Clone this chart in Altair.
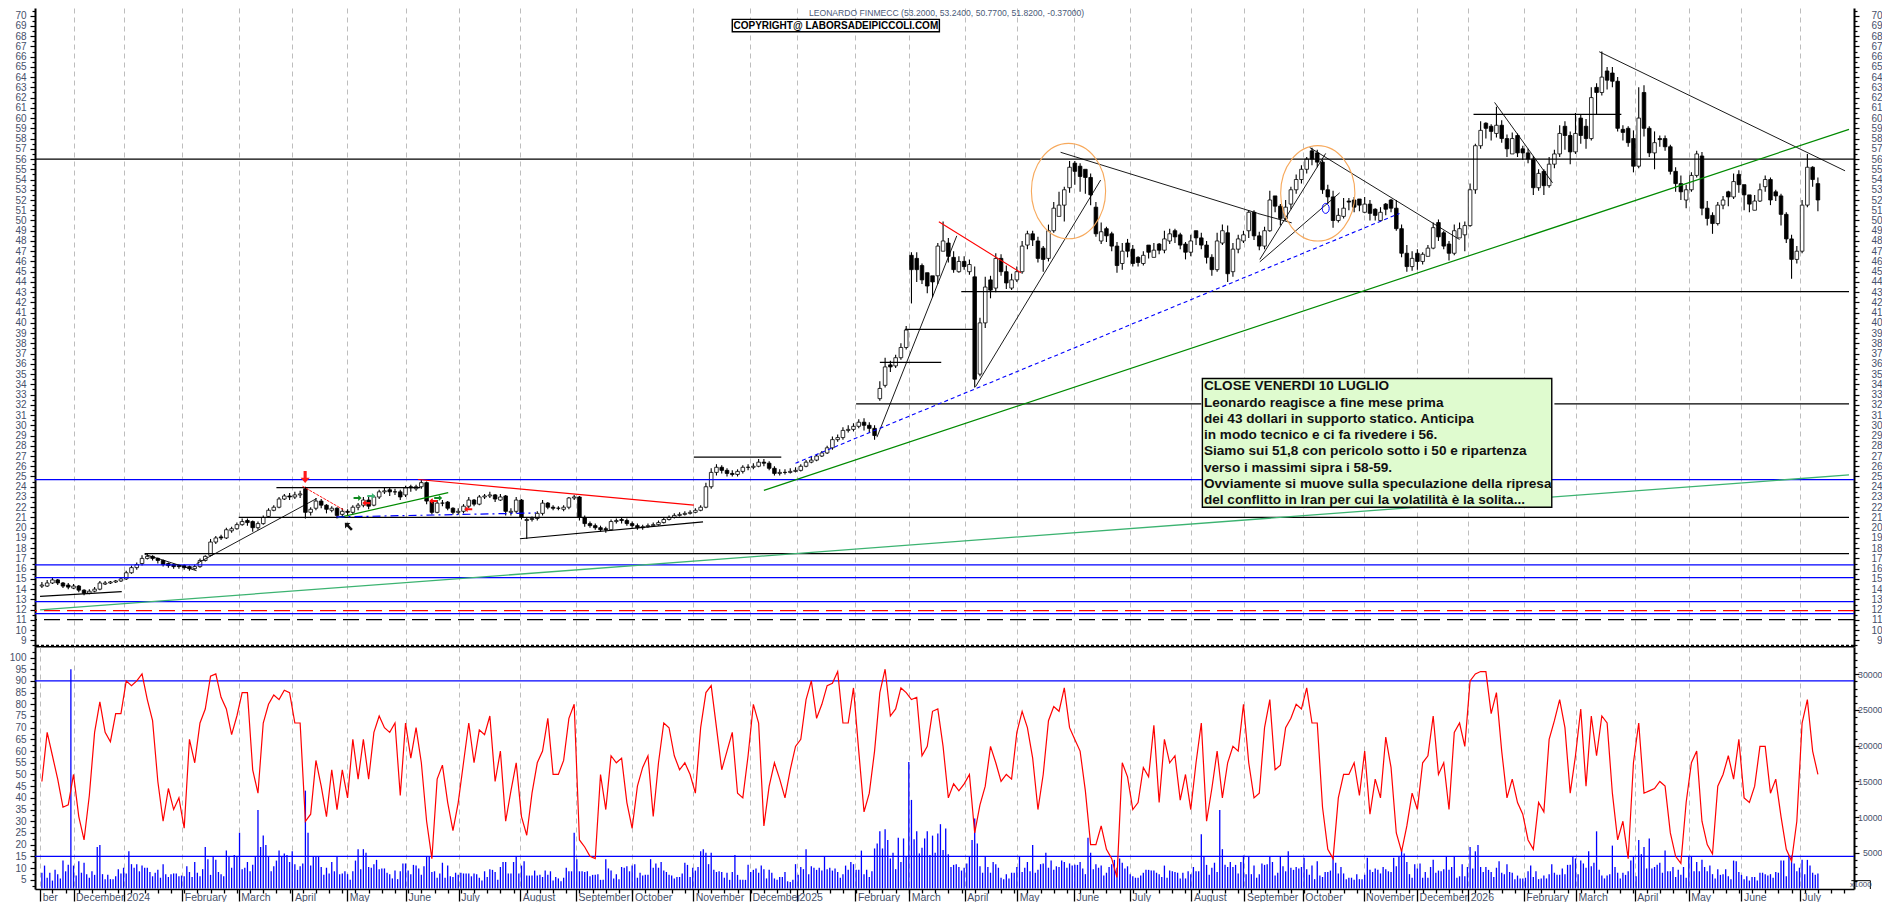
import altair as alt
import pandas as pd
import json

FONT = "Liberation Sans"

# ---- candles, one every second trading session, first at session -12
open_ = [14.3,14.3,14.6,14.9,14.6,14.4,14.1,14.3,13.9,13.6,
13.8,14.0,14.5,14.6,14.7,14.8,15.0,15.6,16.1,16.5,
17.0,17.2,17.0,16.8,16.5,16.4,16.3,16.3,16.2,16.0,
16.2,16.8,17.3,18.6,19.1,19.0,19.7,19.9,20.3,20.7,
20.6,20.0,20.4,21.1,21.7,22.0,22.8,23.1,23.0,23.2,
23.8,21.5,21.9,22.6,22.2,21.7,21.9,21.3,21.6,21.5,
22.0,22.2,22.7,22.2,23.0,23.5,23.7,23.5,23.5,23.2,
24.0,23.8,24.0,24.4,22.6,21.5,22.4,22.5,21.9,21.5,
21.6,22.1,22.7,22.3,23.0,23.1,23.2,22.7,23.1,21.5,
21.6,22.7,20.7,20.8,20.9,21.4,22.4,22.0,21.9,21.8,
22.0,22.9,23.0,21.0,20.4,20.2,20.0,19.9,19.8,20.6,
20.8,20.7,20.4,20.2,20.0,20.1,20.2,20.3,20.5,20.8,
21.0,21.2,21.3,21.4,21.5,21.7,22.0,24.0,25.4,25.9,
25.6,25.3,25.2,25.5,25.9,25.9,26.0,26.4,26.3,25.8,
25.3,25.4,25.4,25.5,25.6,26.0,26.4,26.6,27.0,27.3,
27.8,28.6,28.8,29.5,29.6,29.9,30.3,30.0,29.7,32.6,
33.9,35.9,35.8,36.6,37.6,46.6,46.3,45.6,44.9,44.6,
44.6,47.0,47.8,46.4,45.0,46.0,45.0,44.5,35.0,40.0,
44.2,43.4,46.3,45.0,43.4,44.2,45.0,47.6,48.7,48.0,
47.3,46.3,49.0,50.4,51.5,53.2,55.6,55.3,55.0,54.2,
51.3,48.0,49.2,48.7,47.5,45.8,47.8,47.2,46.4,45.8,
47.6,46.4,47.7,47.1,48.0,49.0,48.6,47.7,46.9,49.0,
48.3,47.6,46.4,45.2,47.8,48.8,45.0,47.2,48.0,49.0,
50.8,48.5,47.5,49.0,52.4,51.4,50.2,51.6,53.0,54.0,
55.0,56.8,56.6,55.7,53.0,52.3,50.0,50.4,51.9,52.0,
52.1,50.8,51.6,51.1,50.0,51.6,52.0,51.2,49.2,46.8,
45.5,46.8,46.0,46.5,47.3,49.8,48.8,47.7,46.8,48.3,
48.6,49.5,53.0,57.3,59.5,59.2,58.5,59.3,58.0,56.5,
58.3,57.0,56.6,56.0,53.2,54.8,53.4,55.5,56.5,59.2,
58.3,56.7,60.0,59.2,58.0,63.0,62.5,64.6,64.4,63.6,
58.9,59.0,58.0,55.3,62.5,59.0,56.6,58.0,58.0,57.2,
54.8,53.6,52.0,53.0,54.4,56.3,51.2,50.5,49.7,51.5,
52.8,52.3,54.5,53.5,52.5,51.0,51.9,53.3,54.0,52.8,
52.4,50.6,48.2,46.2,47.0,51.5,55.2,53.6]

high = [14.7,14.9,15.1,15.0,14.7,14.6,14.5,14.4,14.0,14.0,
14.2,14.8,14.8,14.8,14.9,15.1,15.8,16.3,16.6,17.3,
17.5,17.3,17.1,16.9,16.6,16.5,16.4,16.4,16.3,16.4,
17.0,17.3,18.9,19.2,19.3,20.0,20.1,20.5,20.9,20.9,
20.7,20.6,21.2,21.9,22.2,23.0,23.3,23.4,23.5,23.6,
24.0,22.0,22.9,22.8,22.3,22.1,22.0,21.9,21.8,22.2,
22.4,23.0,23.0,23.2,23.7,23.9,23.9,23.8,23.7,24.1,
24.2,24.2,24.7,24.5,22.8,22.7,22.7,22.6,22.0,21.9,
22.3,23.0,22.8,23.2,23.3,23.5,23.3,23.3,23.2,21.9,
23.0,22.8,21.0,21.1,21.6,22.7,22.5,22.2,22.1,22.2,
23.0,23.2,23.1,21.2,20.6,20.4,20.2,20.1,20.8,20.9,
21.0,20.9,20.6,20.4,20.3,20.4,20.5,20.7,21.0,21.2,
21.4,21.5,21.6,21.7,21.9,22.2,24.4,25.8,26.2,26.1,
25.8,25.6,25.7,26.1,26.2,26.3,26.7,26.7,26.5,26.0,
25.7,25.7,25.8,25.9,26.2,26.6,26.9,27.2,27.5,28.0,
28.9,29.1,29.8,30.0,30.2,30.6,30.7,30.3,30.0,34.3,
36.6,36.3,36.9,38.0,39.7,46.9,46.9,45.8,44.9,44.5,
47.8,49.9,48.3,47.0,46.5,46.5,46.2,45.5,40.5,44.5,
44.6,46.8,46.7,45.6,44.8,45.5,48.0,49.0,49.0,48.4,
47.5,49.6,51.8,52.8,53.3,55.8,55.8,55.6,54.8,54.6,
51.8,49.8,49.4,48.9,47.9,47.8,48.2,47.6,46.5,47.0,
47.4,47.8,47.8,49.0,49.2,49.2,48.8,47.9,48.6,49.0,
48.8,48.0,46.7,48.8,49.6,49.5,47.8,48.6,49.0,51.0,
51.0,48.9,49.4,52.9,52.3,51.6,52.0,53.3,54.5,55.4,
56.2,57.1,56.9,55.9,53.5,52.9,51.2,52.2,52.2,52.3,
52.0,52.3,52.0,51.2,51.3,51.7,52.1,52.0,49.6,47.6,
47.0,47.2,46.9,47.6,49.8,50.1,49.0,48.0,49.6,49.8,
49.9,53.6,57.5,59.7,59.6,59.4,61.1,59.8,58.4,58.6,
58.5,57.3,57.0,56.3,55.0,55.0,56.2,56.9,59.3,59.7,
58.7,60.5,60.4,59.9,63.0,63.4,66.5,65.0,65.0,64.0,
59.3,59.2,58.8,63.0,63.2,59.2,58.7,58.3,58.3,57.4,
55.2,54.4,53.5,54.7,56.8,56.7,51.9,50.8,51.8,52.4,
52.9,54.6,54.9,53.0,52.2,52.5,53.6,54.4,54.2,53.0,
52.6,50.8,48.6,47.5,52.0,56.5,55.3,54.2]

low = [14.1,14.2,14.5,14.4,14.1,14.0,14.0,13.7,13.4,13.5,
13.7,13.9,14.4,14.5,14.6,14.7,14.9,15.5,15.9,16.3,
16.9,16.8,16.5,16.2,16.1,16.0,16.0,15.9,15.8,15.9,
16.1,16.7,17.2,18.4,18.8,18.9,19.5,19.8,20.2,20.2,
19.6,19.8,20.3,21.0,21.6,21.9,22.7,22.7,22.8,22.9,
20.9,21.2,21.7,21.9,21.4,21.5,20.9,21.1,21.2,21.3,
21.7,22.0,21.8,22.1,22.8,23.3,23.1,23.2,22.7,23.0,
23.5,23.6,23.8,22.3,21.3,21.4,22.1,21.7,21.3,21.3,
21.4,21.9,22.1,22.2,22.8,22.9,22.5,22.6,21.2,21.2,
21.4,20.8,18.9,20.6,20.7,21.2,21.8,21.7,21.7,21.6,
21.8,22.7,20.7,20.1,20.0,19.8,19.6,19.5,19.7,20.4,
20.4,20.2,20.0,19.8,19.8,20.0,20.1,20.2,20.4,20.7,
20.9,21.1,21.2,21.3,21.4,21.6,21.9,23.8,25.1,25.3,
25.0,25.0,25.0,25.3,25.6,25.7,25.9,26.0,25.6,25.1,
25.1,25.2,25.3,25.4,25.5,25.9,26.3,26.5,26.9,27.2,
27.6,28.4,28.6,29.3,29.4,29.7,29.5,29.3,28.6,32.4,
33.7,35.2,35.6,36.4,37.4,41.9,44.0,43.8,42.9,42.5,
43.8,47.1,45.9,44.9,44.9,45.2,44.7,33.7,34.8,39.5,
42.4,43.0,44.6,43.3,43.2,44.0,44.8,47.2,47.5,45.9,
45.0,46.0,48.8,50.8,49.9,52.7,53.5,52.8,52.6,51.5,
48.4,47.7,47.9,47.0,44.9,45.2,46.4,45.5,45.5,45.6,
46.3,46.4,46.7,46.8,47.7,47.8,47.2,46.2,46.5,47.6,
47.2,45.8,44.6,45.0,47.6,44.0,44.5,46.8,47.8,48.3,
48.1,47.1,47.2,48.9,50.8,49.5,50.0,51.1,52.6,53.6,
54.6,55.4,55.2,52.6,51.6,49.3,49.8,50.2,51.0,50.8,
50.9,50.7,50.0,50.0,50.3,50.5,50.8,49.0,46.4,45.0,
45.1,45.2,45.7,46.5,47.2,48.0,47.2,46.1,46.6,48.5,
47.0,49.4,52.6,57.0,58.0,57.8,58.1,57.6,56.2,56.7,
56.2,55.9,55.6,52.5,52.9,52.5,53.2,55.1,56.2,56.9,
55.5,56.5,57.5,57.0,57.8,60.4,62.2,62.8,63.0,58.7,
57.8,57.2,54.7,55.1,58.2,56.2,55.0,57.2,56.8,54.5,
52.8,52.0,51.2,52.8,54.2,50.5,49.5,48.7,49.5,51.1,
51.4,52.1,52.7,51.0,50.8,51.0,51.8,52.8,51.5,51.9,
49.5,47.8,44.3,45.8,46.8,51.3,53.3,50.9]

close = [14.4,14.6,14.9,14.6,14.3,14.2,14.3,13.9,13.6,13.8,
14.0,14.6,14.6,14.7,14.8,15.0,15.6,16.1,16.4,17.0,
17.2,17.0,16.8,16.4,16.3,16.2,16.2,16.1,16.0,16.2,
16.8,17.2,18.6,19.0,19.0,19.8,19.9,20.3,20.6,20.5,
20.0,20.4,21.0,21.7,22.0,22.8,23.1,23.0,23.2,23.3,
21.5,21.8,22.6,22.2,21.8,21.9,21.2,21.6,21.5,22.0,
22.2,22.7,22.1,23.0,23.5,23.6,23.5,23.5,23.0,23.9,
23.9,24.0,24.4,22.6,21.5,22.4,22.4,21.9,21.5,21.6,
22.1,22.7,22.3,23.0,23.1,23.2,22.8,23.0,21.6,21.6,
22.7,21.0,20.8,20.9,21.4,22.4,22.0,21.9,21.9,22.0,
22.9,23.0,21.0,20.4,20.2,20.0,19.8,19.8,20.6,20.7,
20.7,20.4,20.2,20.0,20.1,20.2,20.3,20.5,20.8,21.0,
21.2,21.3,21.4,21.5,21.7,22.0,24.0,25.4,25.9,25.6,
25.3,25.2,25.5,25.9,25.9,26.0,26.4,26.3,25.8,25.3,
25.4,25.4,25.5,25.6,26.0,26.4,26.6,27.0,27.3,27.8,
28.6,28.8,29.5,29.6,29.9,30.3,30.0,29.7,29.0,33.6,
35.7,35.7,36.6,37.6,39.3,45.2,45.2,44.2,43.6,44.0,
47.5,48.0,46.5,45.2,46.0,45.5,45.7,34.5,40.0,43.5,
43.2,46.3,45.0,43.9,44.2,45.0,47.5,48.7,48.1,46.3,
46.2,49.0,51.2,51.5,53.0,55.2,54.8,54.3,54.2,52.5,
48.7,48.9,48.5,47.5,45.6,47.0,47.0,45.8,45.9,46.6,
46.9,47.1,47.1,48.2,48.7,48.4,47.6,46.9,48.0,48.3,
47.6,46.4,45.2,48.0,49.0,44.8,47.2,48.2,48.6,50.8,
48.5,47.5,49.0,52.0,51.4,50.2,51.3,53.0,54.0,55.0,
56.0,56.0,55.7,53.0,52.3,50.0,50.5,51.2,51.8,51.3,
51.5,51.6,50.7,50.5,50.8,51.1,51.2,49.2,46.8,45.5,
46.3,46.0,46.7,47.3,49.3,48.4,47.5,46.8,49.0,49.2,
49.5,53.0,57.3,58.8,59.0,58.7,59.3,58.0,57.0,58.0,
56.6,56.6,56.0,53.2,54.6,53.4,55.5,56.5,58.5,58.3,
56.7,58.5,58.3,58.0,62.0,62.5,64.0,63.7,63.6,59.0,
58.6,57.6,55.3,60.0,59.0,56.6,57.6,57.9,57.2,54.8,
53.6,52.8,53.0,54.4,56.5,51.2,50.2,49.7,51.5,52.0,
52.3,53.8,53.5,52.5,51.6,51.9,53.0,54.0,52.0,52.4,
50.6,48.2,46.2,47.0,51.5,55.2,54.0,52.0]

# ---- oscillator (left scale of the lower panel), same sessions as the candles
oscillator = [47,68,58,48,36,37,50,32,22,41,
68,81,68,64,76,76,90,88,90,93,
82,73,47,30,44,35,40,27,65,55,
72,78,92,93,83,78,67,75,85,85,
52,42,72,80,84,82,86,85,72,72,
30,33,56,45,32,52,35,52,40,65,
48,65,48,68,75,70,68,72,41,72,
57,70,55,30,14,48,54,38,26,38,
55,72,55,69,67,75,47,60,30,43,
55,32,24,42,55,60,74,50,50,56,
74,80,22,19,15,14,50,35,58,55,
57,38,27,45,53,58,32,55,72,70,
58,52,55,50,42,70,85,88,70,52,
60,68,42,40,58,80,72,28,45,55,
48,40,52,62,65,82,90,74,80,88,
89,94,72,72,87,60,34,42,60,85,
95,75,78,87,85,82,83,58,62,77,
78,62,40,46,43,46,50,25,37,45,
62,55,47,50,48,68,77,70,57,35,
50,73,79,77,87,70,65,60,43,20,
20,28,18,14,6,55,49,35,38,53,
49,71,38,65,55,58,39,50,35,55,
72,30,44,60,40,55,62,60,80,55,
40,42,70,82,52,54,70,74,80,78,
87,72,72,36,18,14,40,50,50,55,
41,60,33,48,40,66,53,25,17,28,
42,35,55,58,75,50,55,35,68,72,
62,90,93,94,94,76,85,60,40,48,
38,33,22,18,38,34,65,73,82,70,
42,58,78,45,75,58,75,72,42,22,
30,14,55,72,42,43,44,47,45,25,
15,12,38,55,60,30,20,16,45,50,
58,48,65,40,38,45,62,62,42,48,
32,18,13,30,72,82,60,50]

# ---- volume in thousands (right scale of the lower panel), every session from -12
volume = [2.2,3.2,1.5,2.2,1.1,2.6,2.0,1.4,3.9,2.4,3.3,30.7,3.2,1.8,3.8,2.2,3.6,2.0,1.5,2.4,
1.9,5.8,6.1,2.0,1.3,1.9,1.3,1.3,1.7,2.7,2.1,2.9,2.1,5.2,3.4,2.9,3.4,2.4,3.2,2.9,
2.9,2.3,1.7,2.2,2.6,1.5,3.4,2.0,1.6,2.0,2.1,2.1,1.7,1.8,1.7,3.1,2.3,1.6,3.7,2.2,
1.7,2.7,5.8,4.1,1.9,4.5,4.0,2.3,2.0,1.7,5.3,4.4,2.9,4.7,4.4,7.8,2.7,2.9,3.7,2.4,
3.3,4.4,11.0,5.8,7.4,6.1,4.5,2.4,3.1,3.9,5.3,4.4,4.9,4.7,3.7,5.2,3.4,2.6,3.1,3.5,
13.7,7.8,3.2,4.4,4.5,4.5,3.0,1.9,2.9,2.1,3.7,2.4,4.5,2.0,2.1,2.4,2.0,1.2,2.4,3.9,
5.5,2.7,5.5,5.0,3.0,2.9,3.4,4.0,2.7,2.8,2.8,2.2,2.0,1.4,2.5,1.3,2.4,3.5,3.5,2.5,
2.0,3.3,3.2,2.8,1.9,3.1,4.5,4.5,2.3,2.4,1.5,2.1,3.6,1.5,3.2,1.7,1.6,2.2,1.9,2.2,
2.1,2.1,2.1,1.7,2.1,2.0,1.5,1.1,2.4,1.6,2.7,2.6,2.3,1.2,3.0,3.7,3.7,2.1,2.1,3.7,
4.5,2.1,3.2,3.8,1.8,1.8,1.8,2.5,1.8,1.9,1.6,2.5,1.9,2.4,1.1,1.6,1.4,1.0,1.5,2.9,
2.4,2.4,7.8,4.1,2.4,2.4,2.3,2.4,1.7,1.9,1.9,2.0,1.2,1.2,4.1,2.8,2.5,1.4,2.0,1.3,
3.0,2.9,3.1,2.4,3.2,3.4,1.5,2.2,1.8,1.9,1.9,4.1,2.9,3.5,2.9,3.7,2.5,2.3,1.9,1.8,
1.4,1.6,1.6,2.1,3.6,3.3,1.6,2.9,2.5,3.0,5.2,5.5,5.0,3.4,5.0,2.6,2.3,2.4,2.3,1.5,
2.2,1.2,2.3,4.7,1.9,1.2,1.2,1.2,3.3,2.3,2.6,2.8,2.2,3.2,2.7,1.4,2.6,2.2,1.4,1.2,
1.6,1.6,2.3,1.0,0.9,1.2,3.4,1.9,3.0,2.7,5.5,2.0,3.1,2.9,2.6,2.9,2.5,4.4,2.7,2.9,
2.5,2.8,2.3,1.5,2.0,3.2,2.6,3.7,3.4,2.6,2.6,5.3,2.0,2.6,1.6,2.4,5.6,6.3,8.0,5.6,
8.3,6.8,4.2,5.0,2.7,7.1,3.7,7.0,4.4,17.7,12.4,6.9,8.0,4.9,5.7,7.0,8.0,4.7,7.4,5.0,
7.7,9.0,5.4,8.4,4.8,3.0,3.3,3.4,3.0,2.5,2.9,3.5,4.5,6.8,9.8,6.3,3.1,2.2,4.5,3.0,
2.2,3.7,3.4,2.9,1.5,1.3,2.0,1.4,2.2,2.2,3.0,4.5,2.3,2.9,3.7,2.4,6.1,2.2,2.6,3.4,
3.5,5.0,2.9,3.9,2.6,3.1,3.0,3.9,3.7,2.9,3.5,3.2,3.3,3.3,3.7,2.8,2.0,7.1,5.0,2.7,
3.4,2.9,3.2,1.8,2.2,3.0,3.4,4.0,2.9,4.2,3.6,2.8,3.1,2.0,1.7,1.5,1.5,1.8,2.2,2.6,
2.6,2.5,2.5,2.2,2.0,1.6,3.2,1.5,2.5,2.4,2.3,2.2,1.4,2.2,1.4,2.4,2.0,3.0,2.4,2.4,
7.6,4.5,3.3,1.9,2.9,3.6,2.3,11.0,5.5,3.3,3.0,3.7,3.0,3.3,2.1,3.7,4.6,2.0,4.5,2.0,
3.2,1.5,2.0,3.5,3.3,3.4,4.5,3.7,1.8,2.2,4.5,3.1,2.4,5.2,2.9,2.6,3.0,2.8,3.0,4.3,
2.7,1.9,3.2,1.3,3.8,1.8,1.6,2.3,2.3,2.5,4.5,3.6,2.1,3.0,2.1,1.3,1.5,1.5,1.2,2.0,
1.3,1.3,1.9,4.3,2.6,2.3,2.8,2.6,2.1,3.0,2.7,2.4,2.3,4.3,3.1,4.5,5.3,4.9,3.7,2.0,
1.5,3.4,2.8,3.5,1.5,2.3,1.5,3.0,4.0,2.2,2.5,2.4,2.7,4.5,2.6,3.0,4.5,1.5,1.7,3.4,
1.7,3.0,5.8,2.8,5.2,6.1,3.0,2.3,3.0,2.6,2.3,1.6,2.9,3.8,2.2,2.0,3.4,2.3,2.2,1.3,
1.8,1.4,1.4,1.5,2.4,3.2,1.6,2.4,1.3,1.4,1.8,1.4,2.0,3.4,2.2,1.9,1.9,2.8,2.0,3.3,
3.3,4.5,4.2,2.0,3.9,3.5,2.9,5.2,3.1,3.6,8.0,2.6,1.8,1.4,1.8,2.0,6.0,3.0,2.2,1.4,
2.2,1.9,2.4,3.9,4.4,1.7,6.8,4.8,5.8,2.8,7.0,2.8,3.0,3.3,3.6,2.2,5.3,2.4,2.4,3.0,
1.6,2.6,1.9,3.0,1.5,4.5,4.5,2.4,3.7,2.4,4.0,3.0,2.4,3.2,2.0,1.4,2.7,1.9,2.0,2.7,
1.7,1.3,3.9,3.8,2.3,1.9,1.3,1.7,1.1,1.6,1.6,1.1,2.2,2.2,2.0,1.8,2.0,1.5,2.3,2.2,
3.9,3.9,1.7,4.6,4.6,3.5,2.4,2.9,4.0,2.0,4.0,3.2,2.2,1.9,2.1]

# ---- calendar: position of each month's first session, and its label
month_pos = [-12.65,0,19.25,41.25,62.75,83.09,103.85,126.15,146.15,169.51,190.72,212.11,235.17,
             256.68,274.57,296.72,317.17,338.26,358.11,379.66,400.87,424.23,444.38,466.53,
             489.58,509.89,529.28,550.38,570.23,592.53,612.98,632.98,655.13]
month_lab = ["ber","December","2024","February","March","April","May","June","July","August",
             "September","October","November","December","2025","February","March","April","May",
             "June","July","August","September","October","November","December","2026","February",
             "March","April","May","June","July"]
week_pos = list(range(-8, 674, 5))

# ---- full-width levels of the upper panel
blue_levels = [24.7, 16.37, 15.12, 12.78, 11.6]
black_levels = [56.0]
red_dashed_levels = [11.9]
black_dashed_levels = [11.02]
osc_levels = [90, 15]

# ---- drawn lines: (from session, from price, to session, to price)
black_thick = [(336.9,43.05,673.8,43.05),(297,32.1,428,32.1),(562,32.1,673.8,32.1),
               (62.7,21.0,673.8,21.0),(27,17.47,673.8,17.47),(77,23.92,131.6,23.92),
               (306,36.14,329.3,36.14),(315.5,39.36,342.3,39.36),(235.4,26.9,268.6,26.9),
               (531.3,60.36,587.4,60.36),(-12.7,13.3,18.3,13.75),(169.4,18.92,238.9,20.56)]
black_thin = [(27,17.4,46.7,15.8),(46.7,16.49,92.2,22.84),(304.9,28.84,335.2,48.5),
              (342.3,33.76,389.8,53.95),(374.6,56.66,449.4,50.7),(449.4,50.69,462.3,49.77),
              (469.1,57.13,526,48.14),(450.2,46.2,475.2,56.55),(450.2,45.96,480.5,52.7),
              (539.3,61.53,561.3,53.68),(579,66.48,672.3,54.85)]
red_lines = [(130.8,24.7,235.4,22.2),(328.4,49.88,359.5,44.9)]
red_thin = [(86.9,24.05,102.8,21.7)]
green_dark = [(262,23.64,673.8,58.9),(100.5,20.99,142.2,23.43)]
green_light = [(-12.7,11.97,673.8,25.15)]
blue_dashed = [(274,26.3,503.2,50.69)]
blue_dashdot = [(99.8,21.05,175.5,21.44)]

# ---- markers
ell_x, ell_y = [377.6, 472.2], [52.87, 52.65]
small_x, small_y = [475.2], [51.18]
down_x, down_y = [87.9], [24.96]
nw_x, nw_y = [104.3], [20.14]
right_x, right_y = [107.8, 138.4], [22.9, 22.9]
rightl_x, rightl_y = [113], [23.1]
left_x, left_y = [111.1, 136.5, 149.8], [22.4, 22.6, 21.8]

# ---- notes
note_lines = ["CLOSE VENERDI 10 LUGLIO",
              "Leonardo reagisce a fine mese prima",
              "dei 43 dollari in supporto statico. Anticipa",
              "in modo tecnico e ci fa rivedere i 56.",
              "Siamo sui 51,8  con pericolo sotto i 50 e ripartenza",
              "verso i massimi sipra i 58-59.",
              "Ovviamente si muove sulla speculazione della ripresa",
              "del conflitto in Iran per cui la volatilità è la solita..."]
note_y = [33.82, 32.19, 30.62, 29.03, 27.47, 25.84, 24.25, 22.71]
note_x = 429
note_box = (428.4, 34.57, 561, 22.0)
title_text = "LEONARDO FINMECC (53.2000, 53.2400, 50.7700, 51.8200, -0.37000)"
copy_text = "COPYRIGHT@ LABORSADEIPICCOLI.COM"
copy_box = (250, 69.64, 328.6, 68.43)

# ---- scales
PW, TH, BH = 1819, 639, 242
x_scale = alt.Scale(domain=[-12.72, 673.8], nice=False, zero=False)
p_scale = alt.Scale(domain=[8.35, 70.75], nice=False, zero=False)
o_scale = alt.Scale(domain=[1.03, 104.5], nice=False, zero=False)
v_scale = alt.Scale(domain=[-0.08, 33.82], nice=False, zero=False)

LABEL = "#46506a"
RIGHT_EXT = 28
month_map = json.dumps({str(p): l for p, l in zip(month_pos, month_lab)})
is_month = f"({month_map})[datum.value]"

x_top = alt.Axis(values=month_pos[1:], labels=False, ticks=False, domain=False, grid=True,
                 gridColor="#bdbdbd", gridDash=[5, 4], gridWidth=1, title=None)
x_bot = alt.Axis(values=sorted(month_pos + week_pos), grid=True, gridColor="#bdbdbd", gridDash=[5, 4],
                 gridWidth=1, title=None, domainColor="black", domainWidth=1.5, tickColor="black",
                 tickWidth=1.3,
                 tickSize={"condition": {"test": is_month, "value": 12}, "value": 4},
                 gridOpacity={"condition": {"test": is_month, "value": 1}, "value": 0},
                 labelExpr=f"{is_month} || ''", labelAlign="left", labelBaseline="middle",
                 labelPadding=-4, labelOffset=2, labelFont=FONT, labelFontSize=10.5, labelColor=LABEL,
                 labelOverlap=False, labelBound=False, labelFlush=False, minExtent=14, maxExtent=14)
X_top = alt.X("x:Q", scale=x_scale, axis=x_top)
X_bot = alt.X("x:Q", scale=x_scale, axis=x_bot)


def y_axis(orient, values, major, label_expr, font_size=10):
    left = orient == "left"
    return alt.Axis(orient=orient, values=values, grid=False, title=None, domainColor="black",
                    domainWidth=2, tickColor="black", tickWidth=1.2,
                    tickSize={"condition": {"test": major, "value": 5}, "value": 3},
                    labelExpr=label_expr, labelFont=FONT, labelFontSize=font_size, labelColor=LABEL,
                    labelOverlap=False, labelBound=False, labelFlush=False,
                    labelAlign="right", labelPadding=4 if left else RIGHT_EXT - 5,
                    minExtent=27 if left else RIGHT_EXT, maxExtent=27 if left else RIGHT_EXT)


def tick_axis(orient, values):
    return alt.Axis(orient=orient, values=values, grid=False, title=None, domain=False, labels=False,
                    tickColor="black", tickWidth=1.2, tickSize=3,
                    minExtent=27 if orient == "left" else RIGHT_EXT, maxExtent=27 if orient == "left" else RIGHT_EXT)


p_vals = [8.5 + 0.5 * i for i in range(124)]
p_top_ticks = [70.5]
p_major = "datum.value % 1 === 0"
p_expr = f"{p_major} && datum.value >= 9 ? format(datum.value, 'd') : ''"
Y_none = alt.Y("y:Q", scale=p_scale, axis=None)


def segs(rows):
    out = []
    for k, (x1, y1, x2, y2) in enumerate(rows):
        out += [{"id": k, "x": x1, "y": y1}, {"id": k, "x": x2, "y": y2}]
    return pd.DataFrame(out)


def seg_layer(rows, color, width, dash=None):
    kw = {"strokeDash": dash} if dash else {}
    return alt.Chart(segs(rows)).mark_line(color=color, strokeWidth=width, **kw).encode(
        x=X_top, y=Y_none, detail="id:N")


def level_layer(levels, color, width, dash=None):
    kw = {"strokeDash": dash} if dash else {}
    return alt.Chart(pd.DataFrame({"y": levels})).mark_rule(color=color, strokeWidth=width, **kw).encode(y=Y_none)


ARROW = "M-0.5,-0.13L0.08,-0.13L0.08,-0.38L0.5,0L0.08,0.38L0.08,0.13L-0.5,0.13Z"


def arrow_layer(xs, ys, color, angle, size):
    return alt.Chart(pd.DataFrame({"x": xs, "y": ys})).mark_point(
        shape=ARROW, filled=True, color=color, opacity=1, angle=angle, size=size, strokeWidth=0
    ).encode(x=X_top, y=Y_none)


sessions2 = list(range(-12, 663, 2))
candles = pd.DataFrame({"x": sessions2, "open": open_, "high": high, "low": low, "close": close})
candles["fill"] = ["black" if c < o else "white" for o, c in zip(open_, close)]

wicks = alt.Chart(candles).mark_rule(color="black", strokeWidth=1.1).encode(
    x=X_top,
    y=alt.Y("low:Q", scale=p_scale, axis=y_axis("left", p_vals, p_major, p_expr)),
    y2="high:Q")
right_axis = alt.Chart(candles).mark_rule(opacity=0).encode(
    x=X_top,
    y=alt.Y("low:Q", scale=p_scale, axis=y_axis("right", p_vals, p_major, p_expr)))
left_ticks = alt.Chart(candles).mark_rule(opacity=0).encode(
    x=X_top,
    y=alt.Y("low:Q", scale=p_scale, axis=tick_axis("left", p_top_ticks)))
right_ticks = alt.Chart(candles).mark_rule(opacity=0).encode(
    x=X_top,
    y=alt.Y("low:Q", scale=p_scale, axis=tick_axis("right", p_top_ticks)))
bodies = alt.Chart(candles).mark_bar(size=3.6, stroke="black", strokeWidth=0.8).encode(
    x=X_top,
    y=alt.Y("open:Q", scale=p_scale, axis=None),
    y2="close:Q",
    fill=alt.Fill("fill:N", scale=None))

ellipses = alt.Chart(pd.DataFrame({"x": ell_x, "y": ell_y})).mark_point(
    shape="M-0.389,0A0.389,0.5,0,1,1,0.389,0A0.389,0.5,0,1,1,-0.389,0Z",
    filled=False, color="#F7A95C", opacity=1, size=36400, strokeWidth=1.1).encode(x=X_top, y=Y_none)
small_ell = alt.Chart(pd.DataFrame({"x": small_x, "y": small_y})).mark_point(
    shape="M-0.35,0A0.35,0.5,0,1,1,0.35,0A0.35,0.5,0,1,1,-0.35,0Z",
    filled=False, color="#0000FF", opacity=1, size=400, strokeWidth=1).encode(x=X_top, y=Y_none)

note_rect = alt.Chart(pd.DataFrame([{"x": note_box[0], "x2": note_box[2], "y": note_box[1], "y2": note_box[3]}])).mark_rect(
    fill="#DFFBCF", stroke="black", strokeWidth=1.4).encode(x=X_top, x2="x2:Q", y=Y_none, y2="y2:Q")
note_text = alt.Chart(pd.DataFrame({"x": [note_x] * len(note_lines), "y": note_y, "t": note_lines})).mark_text(
    align="left", baseline="middle", font=FONT, fontWeight="bold", fontSize=13.6, color="#101010").encode(
    x=X_top, y=Y_none, text="t:N")
copy_rect = alt.Chart(pd.DataFrame([{"x": copy_box[0], "x2": copy_box[2], "y": copy_box[1], "y2": copy_box[3]}])).mark_rect(
    fill="white", stroke="black", strokeWidth=1.4).encode(x=X_top, x2="x2:Q", y=Y_none, y2="y2:Q")
copy_label = alt.Chart(pd.DataFrame({"x": [289.3], "y": [69.03], "t": [copy_text]})).mark_text(
    align="center", baseline="middle", font=FONT, fontWeight="bold", fontSize=10, color="black").encode(
    x=X_top, y=Y_none, text="t:N")
title_label = alt.Chart(pd.DataFrame({"x": [279.1], "y": [70.3], "t": [title_text]})).mark_text(
    align="left", baseline="middle", font=FONT, fontSize=8.6, color="#4a5a78").encode(
    x=X_top, y=Y_none, text="t:N")
sep_solid = alt.Chart(pd.DataFrame({"y": [8.37]})).mark_rule(color="black", strokeWidth=1.6).encode(y=Y_none)
sep_dash = alt.Chart(pd.DataFrame({"y": [8.5]})).mark_rule(color="black", strokeWidth=1.6, strokeDash=[3, 2]).encode(y=Y_none)

top = alt.layer(
    wicks, right_axis, left_ticks, right_ticks, bodies,
    level_layer(blue_levels, "#0000FF", 1.2),
    level_layer(black_levels, "black", 1.2),
    level_layer(red_dashed_levels, "#FF0000", 1.2, [16, 7]),
    level_layer(black_dashed_levels, "black", 1.2, [16, 7]),
    seg_layer(black_thick, "black", 1.2),
    seg_layer(black_thin, "black", 0.9),
    seg_layer(red_lines, "#FF0000", 1.1),
    seg_layer(red_thin, "#FF0000", 0.9, [3, 1]),
    seg_layer(green_light, "#3CB371", 1.3),
    seg_layer(green_dark, "#008A00", 1.2),
    seg_layer(blue_dashed, "#0000FF", 1.1, [4, 3]),
    seg_layer(blue_dashdot, "#0000FF", 1.2, [8, 4, 2, 4]),
    ellipses, small_ell,
    arrow_layer(down_x, down_y, "#FF1A1A", 90, 576),
    arrow_layer(nw_x, nw_y, "#101010", 225, 400),
    arrow_layer(right_x, right_y, "#108A20", 0, 256),
    arrow_layer(rightl_x, rightl_y, "#3CB371", 0, 256),
    arrow_layer(left_x, left_y, "#FF1010", 180, 256),
    note_rect, note_text, copy_rect, copy_label, title_label, sep_solid, sep_dash,
).resolve_axis(y="independent").properties(width=PW, height=TH)

# ---- lower panel
o_vals = [2.5 * i for i in range(1, 42)]
o_major = "datum.value % 5 === 0"
o_expr = f"{o_major} ? format(datum.value, 'd') : ''"
v_vals = list(range(1, 34))
v_major = "datum.value % 5 === 0"
v_expr = f"{v_major} ? format(datum.value * 1000, 'd') : ''"

vol_df = pd.DataFrame({"x": [i - 12 for i in range(len(volume))], "v": volume})
osc_df = pd.DataFrame({"x": sessions2, "o": oscillator})
Y_osc_none = alt.Y("y:Q", scale=o_scale, axis=None)

vol_bars = alt.Chart(vol_df).mark_bar(size=1.3, color="#0000FF").encode(
    x=X_bot, y=alt.Y("v:Q", scale=v_scale, axis=y_axis("right", v_vals, v_major, v_expr, font_size=8.8)))
osc_line = alt.Chart(osc_df).mark_line(color="#FF0000", strokeWidth=1.2).encode(
    x=X_bot, y=alt.Y("o:Q", scale=o_scale, axis=y_axis("left", o_vals, o_major, o_expr)))
osc_rules = alt.Chart(pd.DataFrame({"y": osc_levels})).mark_rule(color="#0000FF", strokeWidth=1.4).encode(y=Y_osc_none)
unit_box = alt.Chart(pd.DataFrame([{"id": 0, "x": 674.7, "y": 4.6}, {"id": 0, "x": 681.9, "y": 4.6},
                                   {"id": 0, "x": 681.9, "y": 1.03}])).mark_line(color="black", strokeWidth=1).encode(
    x=X_bot, y=Y_osc_none)
unit_text = alt.Chart(pd.DataFrame({"x": [678.3], "y": [2.8], "t": ["x1000"]})).mark_text(
    font=FONT, fontSize=8, color=LABEL, baseline="middle").encode(x=X_bot, y=Y_osc_none, text="t:N")

bottom = alt.layer(osc_rules, vol_bars, osc_line, unit_box, unit_text).resolve_scale(y="independent").properties(
    width=PW, height=BH)

chart = alt.vconcat(top, bottom, spacing=0, bounds="flush").properties(
    padding={"left": 0, "top": 0, "right": 0, "bottom": 0}, background="white").configure_view(stroke=None)

chart.save("out.html", embed_options={"renderer": "svg", "actions": False})
